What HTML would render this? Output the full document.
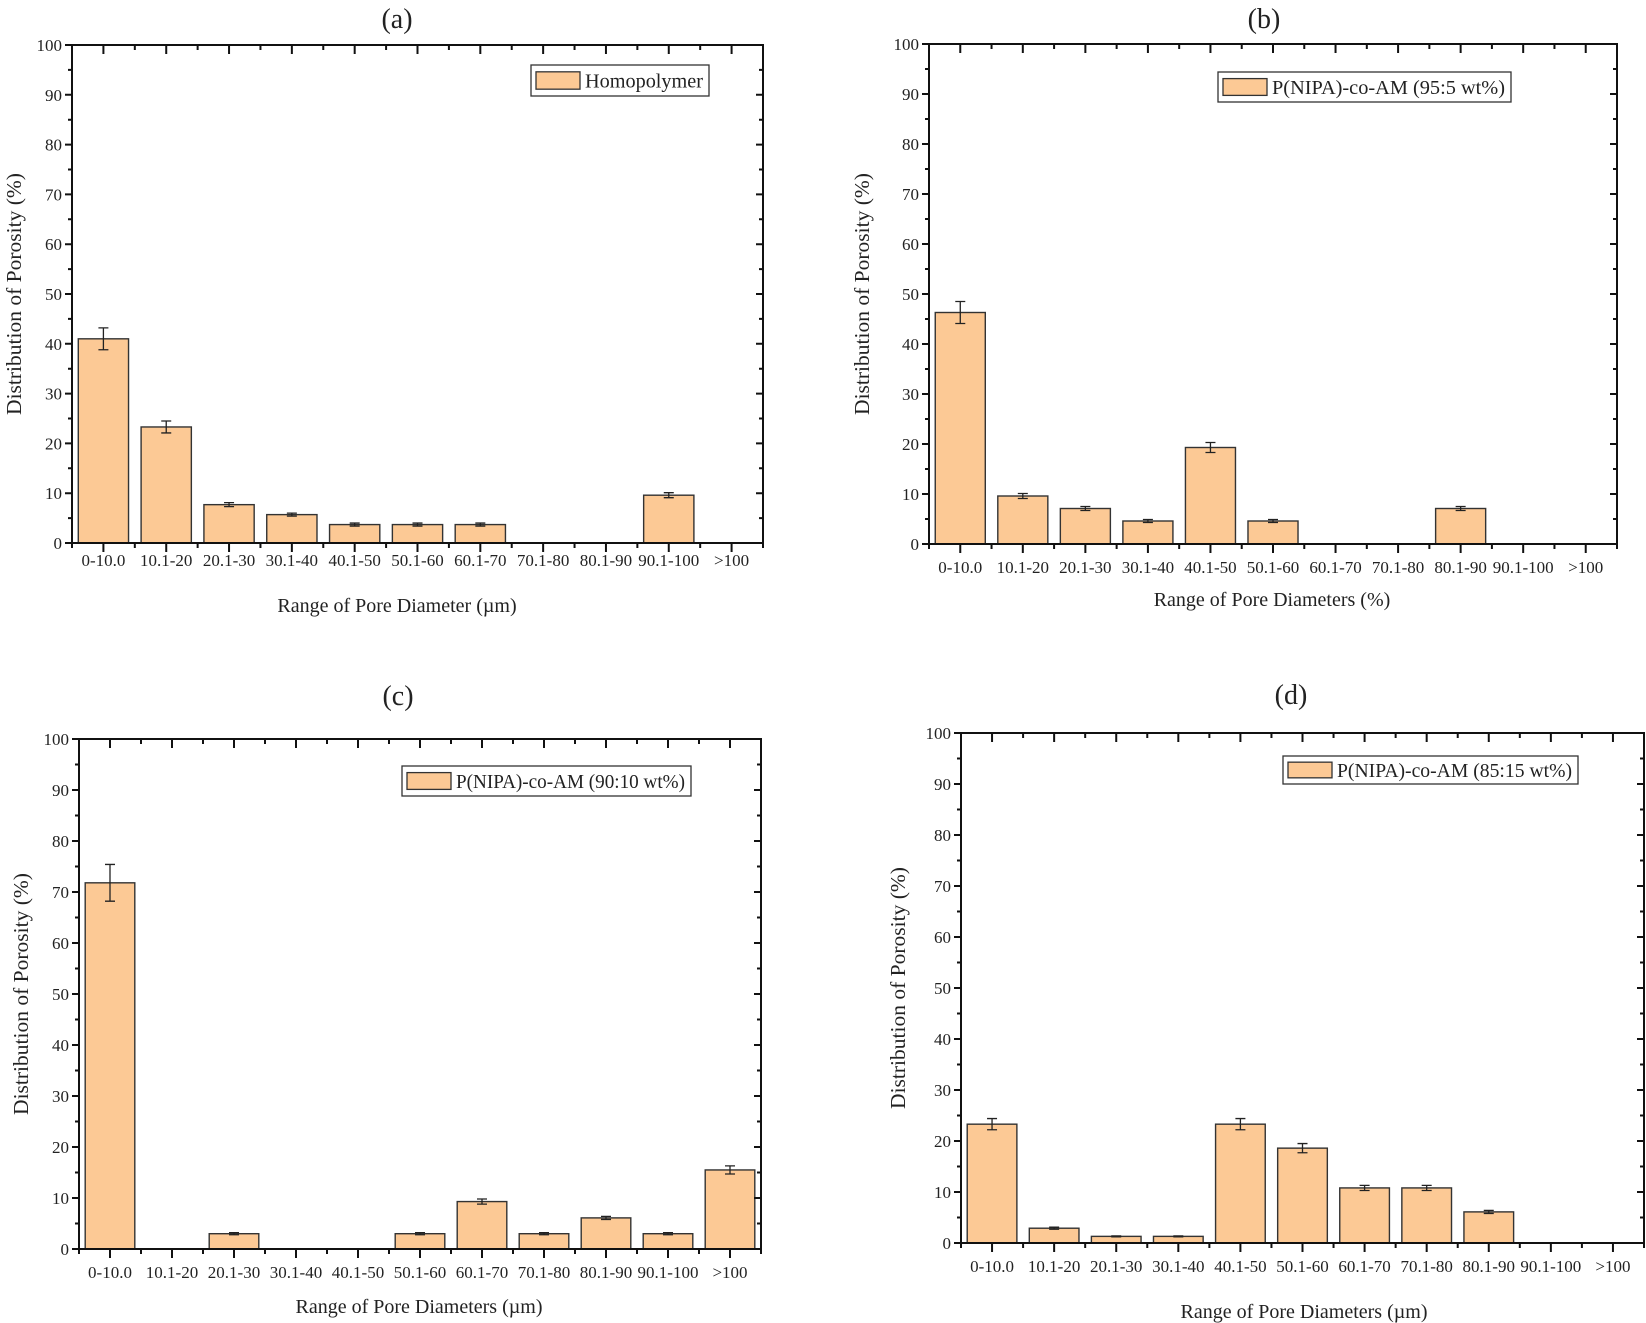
<!DOCTYPE html>
<html><head><meta charset="utf-8"><style>
html,body{margin:0;padding:0;background:#fff;}
svg{display:block;}
text{font-family:"Liberation Serif",serif;fill:#222;}
</style></head><body>
<svg id="s" width="1646" height="1323" viewBox="0 0 1646 1323" xmlns="http://www.w3.org/2000/svg"></svg>
<script>
var NS="http://www.w3.org/2000/svg",S=document.getElementById('s');
function el(t,a,txt){var e=document.createElementNS(NS,t);for(var k in a)e.setAttribute(k,a[k]);if(txt!=null)e.textContent=txt;S.appendChild(e);return e;}
var cats=["0-10.0","10.1-20","20.1-30","30.1-40","40.1-50","50.1-60","60.1-70","70.1-80","80.1-90","90.1-100",">100"];
var P=[
{L:72,R:763,T:45,B:543,title:"(a)",tx:397,ty:28,leg:"Homopolymer",lg:[531,65,709,96],yl:14,xly:566,xt:"Range of Pore Diameter (\u00b5m)",xtx:397,xty:612,
 v:[41,23.3,7.7,5.7,3.7,3.7,3.7,0,0,9.6,0],e:[2.2,1.2,0.4,0.3,0.3,0.3,0.3,0,0,0.5,0]},
{L:929,R:1617,T:44,B:544,title:"(b)",tx:1264,ty:28,leg:"P(NIPA)-co-AM (95:5 wt%)",lg:[1218,72,1511,102],yl:862,xly:573,xt:"Range of Pore Diameters (%)",xtx:1272,xty:606,
 v:[46.3,9.6,7.1,4.6,19.3,4.6,0,0,7.1,0,0],e:[2.2,0.5,0.4,0.3,1,0.3,0,0,0.4,0,0]},
{L:79,R:761,T:739,B:1249,title:"(c)",tx:398,ty:705,leg:"P(NIPA)-co-AM (90:10 wt%)",lg:[402,766,691,796],yl:21,xly:1278,xt:"Range of Pore Diameters (\u00b5m)",xtx:419,xty:1313,
 v:[71.8,0,3,0,0,3,9.3,3,6.1,3,15.5],e:[3.6,0,0.2,0,0,0.2,0.5,0.2,0.3,0.2,0.8]},
{L:961,R:1644,T:733,B:1243,title:"(d)",tx:1291,ty:704,leg:"P(NIPA)-co-AM (85:15 wt%)",lg:[1283,756,1578,784],yl:898,xly:1272,xt:"Range of Pore Diameters (\u00b5m)",xtx:1304,xty:1318,
 v:[23.3,2.9,1.3,1.3,23.3,18.6,10.8,10.8,6.1,0,0],e:[1.1,0.2,0.1,0.1,1.1,0.9,0.5,0.5,0.3,0,0]}
];
P.forEach(function(p){
 var W=p.R-p.L,H=p.B-p.T,sp=W/11,bw=sp*0.8;
 function Y(v){return p.B-v/100*H;}
 p.v.forEach(function(v,i){
  var cx=p.L+sp*(i+0.5);
  if(v>0){
   el('rect',{x:cx-bw/2,y:Y(v),width:bw,height:p.B-Y(v),fill:'#fcc995',stroke:'#333','stroke-width':1.4});
   var e=p.e[i];
   el('path',{d:'M'+cx+' '+Y(v+e)+'V'+Y(v-e)+'M'+(cx-5)+' '+Y(v+e)+'h10M'+(cx-5)+' '+Y(v-e)+'h10',stroke:'#222','stroke-width':1.3,fill:'none'});
  }
 });
 el('rect',{x:p.L,y:p.T,width:W,height:H,fill:'none',stroke:'#111','stroke-width':2});
 var d='';
 for(var k=0;k<=20;k++){var y=Y(k*5),maj=k%2==0,l=maj?7:4;
  d+='M'+p.L+' '+y+'h'+(-l)+'M'+p.R+' '+y+'h'+(-l);
  if(maj)el('text',{x:p.L-10,y:y+6,'font-size':17,'text-anchor':'end'},String(k*5));
 }
 for(var i=0;i<=11;i++){var x=p.L+sp*i;d+='M'+x+' '+p.B+'v5M'+x+' '+p.T+'v5';}
 for(var i=0;i<11;i++){var x=p.L+sp*(i+0.5);d+='M'+x+' '+p.B+'v9M'+x+' '+p.T+'v9';
  el('text',{x:x,y:p.xly,'font-size':17,'text-anchor':'middle'},cats[i]);}
 el('path',{d:d,stroke:'#111','stroke-width':2,fill:'none'});
 el('text',{x:p.tx,y:p.ty,'font-size':28,'text-anchor':'middle'},p.title);
 el('text',{x:p.xtx,y:p.xty,'font-size':20,'text-anchor':'middle'},p.xt);
 var cy=(p.T+p.B)/2;
 el('text',{x:p.yl,y:cy,'font-size':21.5,'text-anchor':'middle',transform:'rotate(-90 '+p.yl+' '+cy+')','dominant-baseline':'central'},'Distribution of Porosity (%)');
 var g=p.lg;
 el('rect',{x:g[0],y:g[1],width:g[2]-g[0],height:g[3]-g[1],fill:'#fff',stroke:'#333','stroke-width':1.3});
 var h=g[3]-g[1];
 el('rect',{x:g[0]+5,y:g[1]+h*0.22,width:44,height:h*0.56,fill:'#fcc995',stroke:'#333','stroke-width':1.3});
 el('text',{x:g[0]+54,y:g[1]+h/2+7,'font-size':20,textLength:(g[2]-g[0]-60),lengthAdjust:'spacingAndGlyphs'},p.leg);
});
</script>
</body></html>
